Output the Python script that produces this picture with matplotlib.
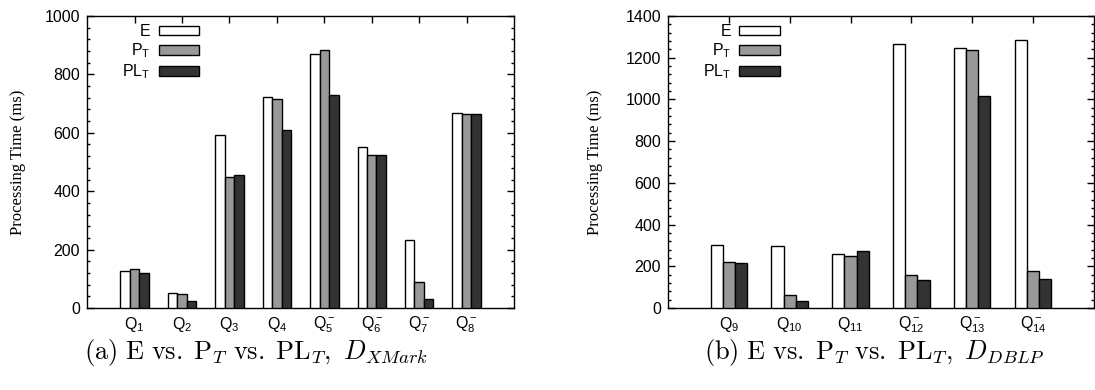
import matplotlib
matplotlib.use('Agg')
import matplotlib.pyplot as plt
import numpy as np
from matplotlib.ticker import MultipleLocator

plt.rcParams['font.family'] = ['Liberation Sans', 'DejaVu Sans']
plt.rcParams['mathtext.fontset'] = 'custom'
plt.rcParams['mathtext.rm'] = 'Liberation Sans'
plt.rcParams['mathtext.it'] = 'Liberation Sans:italic'
plt.rcParams['mathtext.bf'] = 'Liberation Sans:bold'

# XMark queries (ms)
xmark_queries = ['Q$_1$', 'Q$_2$', 'Q$_3$', 'Q$_4$',
                 'Q$^-_5$', 'Q$^-_6$', 'Q$^-_7$', 'Q$^-_8$']
xmark_e = [126, 50, 594, 723, 869, 553, 234, 667]
xmark_p = [133, 47, 448, 717, 882, 525, 88, 666]
xmark_pl = [119, 24, 455, 610, 730, 525, 31, 665]

# DBLP queries (ms)
dblp_queries = ['Q$_9$', 'Q$_{10}$', 'Q$_{11}$',
                'Q$^-_{12}$', 'Q$^-_{13}$', 'Q$^-_{14}$']
dblp_e = [301, 298, 257, 1267, 1245, 1283]
dblp_p = [219, 60, 251, 160, 1238, 179]
dblp_pl = [217, 33, 271, 132, 1014, 141]

series_names = ['E', 'P$_\\mathrm{T}$', 'PL$_\\mathrm{T}$']
series_colors = ['white', '#999999', '#333333']


def draw(ax, labels, e, p, pl, ymax):
    n = len(labels)
    x = np.arange(1, n + 1)
    for k, (vals, col, name) in enumerate(zip([e, p, pl], series_colors, series_names)):
        ax.bar(x + (k - 1) * 0.2, vals, 0.2, color=col, edgecolor='black',
               linewidth=1, label=name, zorder=3)
    ax.set_xlim(0, n + 1)
    ax.set_ylim(0, ymax)
    ax.set_xticks(x)
    ax.set_xticklabels(labels)
    ax.yaxis.set_major_locator(MultipleLocator(200))
    ax.yaxis.set_minor_locator(MultipleLocator(40))
    ax.tick_params(direction='in', top=True, right=True, which='both', labelsize=11.5)
    ax.tick_params(which='major', length=5, width=1)
    ax.tick_params(which='minor', length=2.5, width=1)
    ax.tick_params(axis='x', pad=5)
    ax.tick_params(axis='y', pad=5)
    for s in ax.spines.values():
        s.set_linewidth(1)
    ax.legend(loc='upper right', bbox_to_anchor=(0.263, 0.972), frameon=False,
              markerfirst=False, fontsize=11.5, borderpad=0, borderaxespad=0,
              handlelength=2.55, handleheight=0.55, handletextpad=0.5,
              labelspacing=0.15)


fig = plt.figure(figsize=(10.95, 3.9), dpi=100)
ax1 = fig.add_axes([0.0795, 0.2103, 0.3900, 0.7487])
ax2 = fig.add_axes([0.6100, 0.2103, 0.3890, 0.7487])

draw(ax1, xmark_queries, xmark_e, xmark_p, xmark_pl, 1000)
draw(ax2, dblp_queries, dblp_e, dblp_p, dblp_pl, 1400)

fig.text(0.0165, 0.585, 'Processing Time (ms)', rotation=90, ha='center', va='center',
         family='Liberation Serif', fontsize=12)
fig.text(0.5435, 0.585, 'Processing Time (ms)', rotation=90, ha='center', va='center',
         family='Liberation Serif', fontsize=12)

fig.text(0.234, 0.080, r'$\mathrm{(a)\ E\ vs.\;P}_T\mathrm{\ vs.\;PL}_T\mathrm{,\ }D_{XMark}$',
         ha='center', va='baseline', fontsize=19, math_fontfamily='cm')
fig.text(0.798, 0.080, r'$\mathrm{(b)\ E\ vs.\;P}_T\mathrm{\ vs.\;PL}_T\mathrm{,\ }D_{DBLP}$',
         ha='center', va='baseline', fontsize=19, math_fontfamily='cm')

fig.savefig('out.png', dpi=100)
